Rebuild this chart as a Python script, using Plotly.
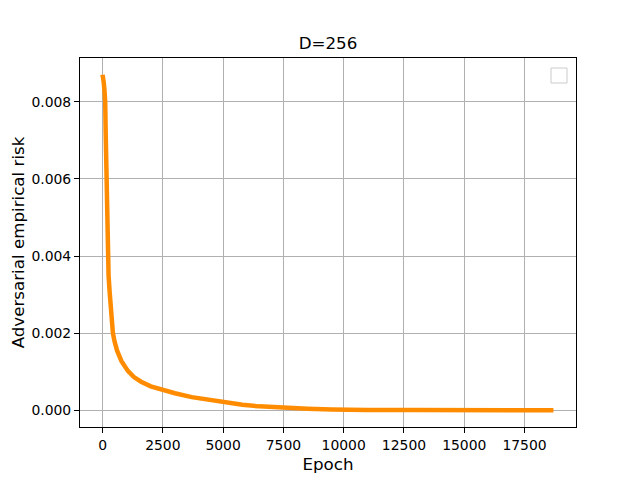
import plotly.graph_objects as go

epochs = [0, 20, 50, 80, 110, 130, 150, 165, 180, 200, 220, 250, 290, 340, 380, 430,
          500, 600, 780, 1050, 1300, 1600, 2000, 2500, 3000, 3700, 4300, 5000,
          5800, 6500, 7500, 8500, 9500, 10000, 11000, 13000, 15000, 17000, 18700]
risk = [0.0087, 0.00865, 0.0085, 0.0083, 0.0080, 0.0072, 0.0065, 0.0060, 0.0053, 0.0047,
        0.0040, 0.0035, 0.0031, 0.0026, 0.0023, 0.0020, 0.00178, 0.00155, 0.00128, 0.00102,
        0.00086, 0.00074, 0.00062, 0.00052, 0.00044, 0.00034, 0.00028, 0.00020,
        0.00014, 0.00010, 0.00006, 0.00004, 0.00002, 0.00001, 0.000004, 0.000003,
        0.000002, 0.000002, 0.000002]

title_text = "D=256"
x_label = "Epoch"
y_label = "Adversarial empirical risk"
x_ticks = [0, 2500, 5000, 7500, 10000, 12500, 15000, 17500]
y_ticks = [0.000, 0.002, 0.004, 0.006, 0.008]

font = "DejaVu Sans, Liberation Sans, sans-serif"

fig = go.Figure()
fig.add_trace(go.Scatter(x=epochs, y=risk, mode="lines",
                         line=dict(color="#ff8c00", width=4.5),
                         showlegend=False))

xmax = max(epochs)
ymax = max(risk)
fig.update_layout(
    width=640, height=480,
    margin=dict(l=72, r=72, t=50, b=61),
    paper_bgcolor="white", plot_bgcolor="white",
    font=dict(family=font, color="black", size=14),
    title=dict(text=title_text, x=0.5, xref="paper", xanchor="center",
               y=1 - 35 / 480, yref="container", yanchor="middle",
               font=dict(size=16.7, family=font, color="black")),
    xaxis=dict(range=[-0.05 * xmax, 1.05 * xmax], tickvals=x_ticks,
               ticktext=[str(v) for v in x_ticks], automargin=False,
               showgrid=True, gridcolor="#b0b0b0", gridwidth=1,
               showline=True, linecolor="black", linewidth=1, mirror=True,
               ticks="outside", ticklen=5, tickcolor="black", zeroline=False,
               tickfont=dict(size=13.9),
               title=dict(text=x_label, font=dict(size=16.7), standoff=6)),
    yaxis=dict(range=[-0.05 * ymax, 1.05 * ymax], tickvals=y_ticks,
               ticktext=[f"{v:.3f}" for v in y_ticks], automargin=False,
               showgrid=True, gridcolor="#b0b0b0", gridwidth=1,
               showline=True, linecolor="black", linewidth=1, mirror=True,
               ticks="outside", ticklen=5, tickcolor="black", zeroline=False,
               tickfont=dict(size=13.9),
               title=dict(text=y_label, font=dict(size=16.7), standoff=4)),
)

# empty legend box (top right)
fig.add_shape(type="rect", xref="paper", yref="paper",
              x0=(551 - 80) / 496, x1=(567 - 80) / 496,
              y0=(427 - 83) / 369, y1=(427 - 68) / 369,
              line=dict(color="#cccccc", width=1), fillcolor="rgba(255,255,255,0.8)")

fig.write_html("out.html")
